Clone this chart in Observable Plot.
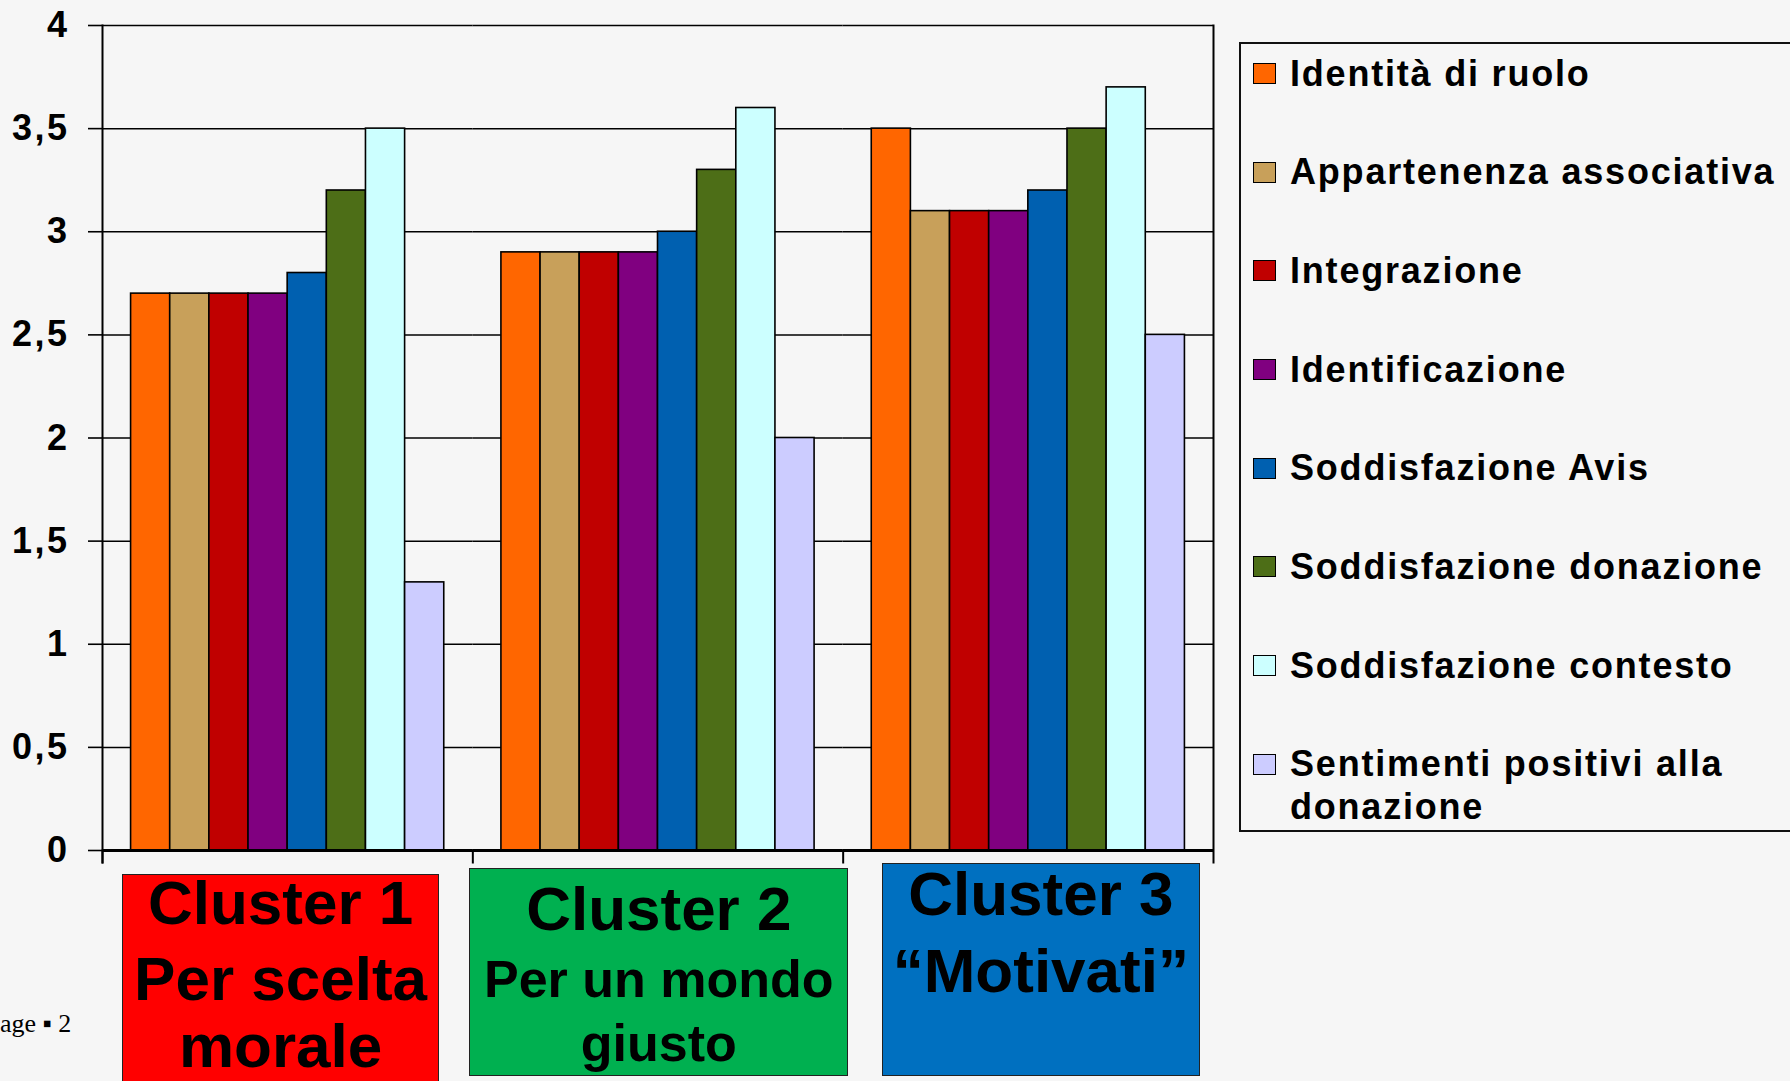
<!DOCTYPE html>
<html>
<head>
<meta charset="utf-8">
<script src="https://cdn.jsdelivr.net/npm/d3@7"></script>
<script src="https://cdn.jsdelivr.net/npm/@observablehq/plot@0.6"></script>
<style>
  html, body { margin: 0; padding: 0; background: #f6f6f6; overflow: hidden; }
  #wrap { position: relative; width: 1790px; height: 1081px; overflow: hidden; background: #f6f6f6; }
  #chart { position: absolute; left: 0; top: 0; }
  #chart svg g[aria-label="y-axis tick label"] text { letter-spacing: 2.5px; }
  .legend { position: absolute; left: 1239px; top: 42px; width: 620px; height: 790px;
            border: 2px solid #111; box-sizing: border-box;
            font-family: "Liberation Sans", Arial, sans-serif; font-weight: bold; color: #000; }
  .legend .sw { position: absolute; width: 23px; height: 21px; box-sizing: border-box; border: 1.5px solid #000; }
  .legend .tx { position: absolute; font-size: 36px; line-height: 43px; white-space: nowrap; letter-spacing: 1.8px; }
  .box { position: absolute; box-sizing: border-box; border: 1.5px solid #222; }
  .box .ln { position: absolute; left: 0; width: 100%; text-align: center; white-space: nowrap;
             font-family: "Liberation Sans", Arial, sans-serif; font-weight: bold; color: #000; line-height: 0.75; }
  .page { position: absolute; left: 0; font-family: "Liberation Serif", "Times New Roman", serif; font-size: 26px; color: #000; line-height: 1; }
</style>
</head>
<body>
<div id="wrap">
  <div id="chart"></div>
</div>
<script>
// ---- data ----
const clusters = ["Cluster 1", "Cluster 2", "Cluster 3"];
const series = [
  "Identità di ruolo",
  "Appartenenza associativa",
  "Integrazione",
  "Identificazione",
  "Soddisfazione Avis",
  "Soddisfazione donazione",
  "Soddisfazione contesto",
  "Sentimenti positivi alla donazione"
];
const legendLines = [
  ["Identità di ruolo"],
  ["Appartenenza associativa"],
  ["Integrazione"],
  ["Identificazione"],
  ["Soddisfazione Avis"],
  ["Soddisfazione donazione"],
  ["Soddisfazione contesto"],
  ["Sentimenti positivi alla", "donazione"]
];
const colors = ["#ff6600", "#c8a05a", "#c00000", "#800080", "#0060b0", "#4d6e17", "#ccffff", "#ccccff"];
const cluster1Values = [2.7, 2.7, 2.7, 2.7, 2.8, 3.2, 3.5, 1.3];
const cluster2Values = [2.9, 2.9, 2.9, 2.9, 3.0, 3.3, 3.6, 2.0];
const cluster3Values = [3.5, 3.1, 3.1, 3.1, 3.2, 3.5, 3.7, 2.5];
const yTicks = [0, 0.5, 1, 1.5, 2, 2.5, 3, 3.5, 4];
const clusterBoxTexts = [
  ["Cluster 1", "Per scelta", "morale"],
  ["Cluster 2", "Per un mondo", "giusto"],
  ["Cluster 3", "“Motivati”"]
];
const clusterBoxColors = ["#ff0000", "#00b050", "#0070c0"];
const pageLabel = "age ▪ 2";

// ---- table ----
const valuesByCluster = [cluster1Values, cluster2Values, cluster3Values];
const rows = [];
clusters.forEach((c, ci) => series.forEach((s, si) => rows.push({cluster: c, series: s, value: valuesByCluster[ci][si]})));

const font = '"Liberation Sans", Arial, sans-serif';

const chart = Plot.plot({
  width: 1790,
  height: 1081,
  marginLeft: 102,
  marginRight: 577,
  marginTop: 25,
  marginBottom: 231,
  style: {background: "#f6f6f6", color: "#000", fontFamily: font},
  fx: {domain: clusters, paddingInner: 0, paddingOuter: 0, round: false, axis: null, label: null},
  x: {domain: series, paddingInner: 0, paddingOuter: 0.73, round: false, axis: null, label: null},
  y: {domain: [0, 4], axis: null, label: null},
  color: {domain: series, range: colors},
  marks: [
    Plot.gridY(yTicks, {stroke: "#000", strokeOpacity: 1, strokeWidth: 1.5}),
    Plot.barY(rows, {fx: "cluster", x: "series", y: "value", fill: "series", stroke: "#000", strokeWidth: 1.6}),
    Plot.ruleY([0], {stroke: "#000", strokeWidth: 3}),
    Plot.frame({anchor: "left", insetTop: 825, insetBottom: -12, stroke: "#000", strokeWidth: 2}),
    Plot.frame({anchor: "left", insetBottom: -12, stroke: "#000", strokeWidth: 2, facetAnchor: "left"}),
    Plot.frame({anchor: "right", insetBottom: -12, stroke: "#000", strokeWidth: 2, facetAnchor: "right"}),
    Plot.axisY(yTicks, {
      anchor: "left",
      tickSize: 14,
      tickPadding: 19,
      tickFormat: d => String(d).replace(".", ","),
      fontSize: 36,
      fontWeight: "bold",
      fill: "#000",
      stroke: "#000",
      strokeWidth: 1.6,
      label: null
    })
  ]
});
document.getElementById("chart").appendChild(chart);

const wrap = document.getElementById("wrap");

// ---- legend ----
const legend = document.createElement("div");
legend.className = "legend";
wrap.appendChild(legend);
const legendLeft = 1241, legendTop = 44;
const firstBaseline = 85.5, itemStep = 98.67, lineStep = 43;
legendLines.forEach((lines, i) => {
  const b = firstBaseline + itemStep * i;
  const sw = document.createElement("div");
  sw.className = "sw";
  sw.style.background = colors[i];
  sw.style.left = (1253 - legendLeft) + "px";
  sw.style.top = (b - 22.5 - legendTop) + "px";
  legend.appendChild(sw);
  lines.forEach((t, j) => {
    const tx = document.createElement("div");
    tx.className = "tx";
    tx.textContent = t;
    tx.style.left = (1290 - legendLeft) + "px";
    tx.style.top = (b + j * lineStep - 34 - legendTop) + "px";
    legend.appendChild(tx);
  });
});

// ---- cluster boxes ----
const boxGeom = [
  {left: 121.7, top: 874, right: 439.5, bottom: 1090, sizes: [62, 62, 62], baselines: [925, 1001.7, 1068]},
  {left: 469.3, top: 868.3, right: 848.3, bottom: 1075.7, sizes: [62, 52, 52], baselines: [931.7, 998.3, 1061.7]},
  {left: 881.7, top: 862.7, right: 1200, bottom: 1075.7, sizes: [62, 62], baselines: [916.7, 993.3]}
];
// baseline offset inside a line box with line-height 0.75em (Liberation Sans ascent .905, descent .212)
const baseOffset = 0.75 / 2 - (0.905 + 0.212) / 2 + 0.905;
clusterBoxTexts.forEach((lines, i) => {
  const g = boxGeom[i];
  const box = document.createElement("div");
  box.className = "box";
  box.style.left = g.left + "px";
  box.style.top = g.top + "px";
  box.style.width = (g.right - g.left) + "px";
  box.style.height = (g.bottom - g.top) + "px";
  box.style.background = clusterBoxColors[i];
  wrap.appendChild(box);
  lines.forEach((t, j) => {
    const ln = document.createElement("div");
    ln.className = "ln";
    ln.textContent = t;
    const fs = g.sizes[j];
    ln.style.fontSize = fs + "px";
    ln.style.top = (g.baselines[j] - baseOffset * fs - g.top - 1.5) + "px";
    box.appendChild(ln);
  });
});

// ---- page label ----
const pg = document.createElement("div");
pg.className = "page";
pg.textContent = pageLabel;
pg.style.top = (1034 - 0.87 * 26) + "px";
wrap.appendChild(pg);
</script>
</body>
</html>
